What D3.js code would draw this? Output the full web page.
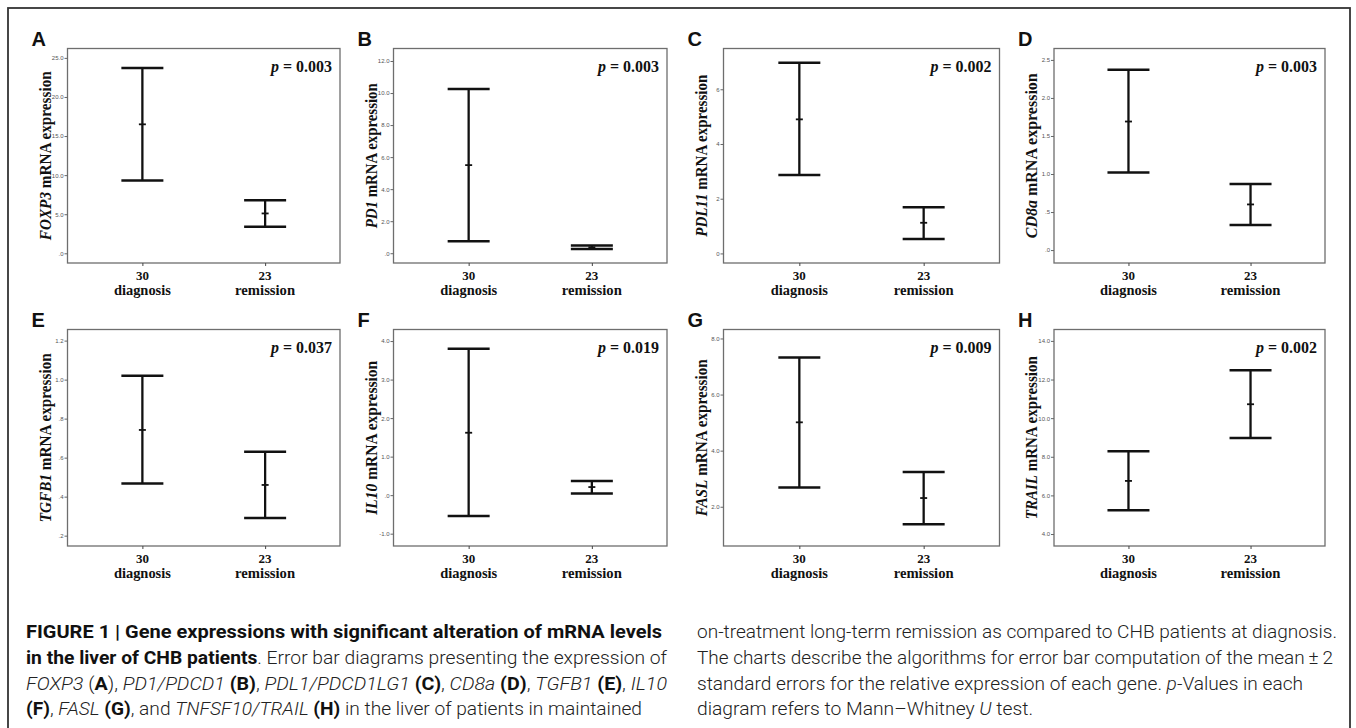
<!DOCTYPE html>
<html>
<head>
<meta charset="utf-8">
<script src="https://d3js.org/d3.v7.min.js"></script>
<style>
  body { margin: 0; background: #fff; }
</style>
</head>
<body>
<script>

  // ---- data ----
  var groups = ["diagnosis", "remission"];
  var groupN = ["30", "23"];
  var panelLetters = ["A", "B", "C", "D", "E", "F", "G", "H"];
  var genes = ["FOXP3", "PD1", "PDL11", "CD8a", "TGFB1", "IL10", "FASL", "TRAIL"];
  var pValues = ["0.003", "0.003", "0.002", "0.003", "0.037", "0.019", "0.009", "0.002"];

  // mean, lower (mean - 2SE), upper (mean + 2SE) for [diagnosis, remission]
  var meanValues  = [[16.5, 5.1], [5.5, 0.37], [4.9, 1.12], [1.69, 0.6], [0.742, 0.46], [1.62, 0.21], [5.01, 2.31], [6.75, 10.72]];
  var lowerValues = [[9.3, 3.4], [0.75, 0.27], [2.87, 0.53], [1.02, 0.33], [0.467, 0.291], [-0.54, 0.04], [2.69, 1.38], [5.23, 8.97]];
  var upperValues = [[23.7, 6.8], [10.25, 0.48], [6.97, 1.69], [2.37, 0.87], [1.02, 0.63], [3.8, 0.37], [7.32, 3.24], [8.28, 12.48]];

  var yDomains = [[-1.24, 26.2], [-0.61, 12.78], [-0.35, 7.49], [-0.17, 2.65], [0.147, 1.257], [-1.32, 4.3], [0.6, 8.32], [3.38, 14.59]];
  var yTicks = [
    [0, 5, 10, 15, 20, 25],
    [0, 2, 4, 6, 8, 10, 12],
    [0, 2, 4, 6],
    [0, 0.5, 1, 1.5, 2, 2.5],
    [0.2, 0.4, 0.6, 0.8, 1.0, 1.2],
    [-1, 0, 1, 2, 3, 4],
    [2, 4, 6, 8],
    [4, 6, 8, 10, 12, 14]
  ];
  var yTickLabels = [
    [".0", "5.0", "10.0", "15.0", "20.0", "25.0"],
    [".0", "2.0", "4.0", "6.0", "8.0", "10.0", "12.0"],
    ["0", "2", "4", "6"],
    [".0", ".5", "1.0", "1.5", "2.0", "2.5"],
    [".2", ".4", ".6", ".8", "1.0", "1.2"],
    ["-1.0", ".0", "1.0", "2.0", "3.0", "4.0"],
    ["2.0", "4.0", "6.0", "8.0"],
    ["4.0", "6.0", "8.0", "10.0", "12.0", "14.0"]
  ];

  // ---- layout ----
  var colLeft = [67.5, 393.5, 723.5, 1054];
  var colRight = [340, 667, 999.5, 1325];
  var rowTop = [48.5, 329.5];
  var rowBottom = [263, 546];
  var titleLength = [169, 145, 162, 165, 169, 154, 157, 163];

  var serif = "'Liberation Serif', 'Times New Roman', serif";
  var sans = "Arial, 'Liberation Sans', sans-serif";
  var capFont = "Roboto, 'Liberation Sans Narrow', 'Arial Narrow', sans-serif";

  var svg = d3.select("body").append("svg")
    .attr("width", 1356)
    .attr("height", 728);

  // outer frame
  svg.append("rect")
    .attr("x", 8).attr("y", 8)
    .attr("width", 1342).attr("height", 760)
    .attr("fill", "none")
    .attr("stroke", "#333")
    .attr("stroke-width", 1.8);

  panelLetters.forEach(function(letter, i) {
    var col = i % 4, row = Math.floor(i / 4);
    var L = colLeft[col], R = colRight[col], T = rowTop[row], B = rowBottom[row];

    var x = d3.scalePoint().domain(groups).range([L, R]).padding(0.61);
    var y = d3.scaleLinear().domain(yDomains[i]).range([B, T]);

    var g = svg.append("g");

    // plot frame
    g.append("rect")
      .attr("x", L).attr("y", T)
      .attr("width", R - L).attr("height", B - T)
      .attr("fill", "none")
      .attr("stroke", "#6e6e6e")
      .attr("stroke-width", 1.3);

    // y axis
    var yAxis = g.append("g")
      .attr("transform", "translate(" + L + ",0)")
      .call(d3.axisLeft(y)
        .tickValues(yTicks[i])
        .tickFormat(function(d, j) { return yTickLabels[i][j]; })
        .tickSize(3)
        .tickPadding(1));
    yAxis.select(".domain").remove();
    yAxis.selectAll(".tick line").attr("stroke", "#666");
    yAxis.selectAll(".tick text")
      .attr("fill", "#555")
      .style("font-family", sans)
      .style("font-size", "6px");

    // x axis ticks
    var xAxis = g.append("g")
      .attr("transform", "translate(0," + B + ")")
      .call(d3.axisBottom(x).tickSize(3).tickFormat(""));
    xAxis.select(".domain").remove();
    xAxis.selectAll(".tick line").attr("stroke", "#444");

    // x labels (n + group)
    groups.forEach(function(gr, j) {
      g.append("text")
        .attr("x", x(gr)).attr("y", B + 16.5)
        .attr("text-anchor", "middle")
        .style("font-family", serif)
        .style("font-weight", "bold")
        .style("font-size", "13px")
        .attr("fill", "#111")
        .text(groupN[j]);
      g.append("text")
        .attr("x", x(gr)).attr("y", B + 31.5)
        .attr("text-anchor", "middle")
        .style("font-family", serif)
        .style("font-weight", "bold")
        .style("font-size", "15.5px")
        .attr("fill", "#111")
        .attr("textLength", j === 0 ? 57 : 60)
        .attr("lengthAdjust", "spacingAndGlyphs")
        .text(gr);
    });

    // error bars
    var bars = groups.map(function(gr, j) {
      return { g: gr, m: meanValues[i][j], lo: lowerValues[i][j], hi: upperValues[i][j] };
    });

    var eb = g.selectAll(".eb").data(bars).enter().append("g")
      .attr("stroke", "#111")
      .attr("fill", "none");

    eb.append("line")
      .attr("x1", function(d) { return x(d.g); })
      .attr("x2", function(d) { return x(d.g); })
      .attr("y1", function(d) { return y(d.lo); })
      .attr("y2", function(d) { return y(d.hi); })
      .attr("stroke-width", 2.3);
    eb.append("line")
      .attr("x1", function(d) { return x(d.g) - 21; })
      .attr("x2", function(d) { return x(d.g) + 21; })
      .attr("y1", function(d) { return y(d.hi); })
      .attr("y2", function(d) { return y(d.hi); })
      .attr("stroke-width", 2.5);
    eb.append("line")
      .attr("x1", function(d) { return x(d.g) - 21; })
      .attr("x2", function(d) { return x(d.g) + 21; })
      .attr("y1", function(d) { return y(d.lo); })
      .attr("y2", function(d) { return y(d.lo); })
      .attr("stroke-width", 2.5);
    eb.append("line")
      .attr("x1", function(d) { return x(d.g) - 3.5; })
      .attr("x2", function(d) { return x(d.g) + 3.5; })
      .attr("y1", function(d) { return y(d.m); })
      .attr("y2", function(d) { return y(d.m); })
      .attr("stroke-width", 1.8);

    // p value
    var pt = g.append("text")
      .attr("x", R - 8).attr("y", T + 23)
      .attr("text-anchor", "end")
      .attr("textLength", 61)
      .attr("lengthAdjust", "spacingAndGlyphs")
      .style("font-family", serif)
      .style("font-weight", "bold")
      .style("font-size", "17.5px")
      .attr("fill", "#111");
    pt.append("tspan").style("font-style", "italic").text("p");
    pt.append("tspan").text(" = " + pValues[i]);

    // y title
    var yt = g.append("text")
      .attr("transform", "translate(" + (L - 17) + "," + ((T + B) / 2) + ") rotate(-90)")
      .attr("text-anchor", "middle")
      .attr("textLength", titleLength[i])
      .attr("lengthAdjust", "spacingAndGlyphs")
      .style("font-family", serif)
      .style("font-weight", "bold")
      .style("font-size", "17px")
      .attr("fill", "#111");
    yt.append("tspan").style("font-style", "italic").text(genes[i]);
    yt.append("tspan").text(" mRNA expression");

    // panel letter
    g.append("text")
      .attr("x", L - 36).attr("y", T - 2.5)
      .style("font-family", sans)
      .style("font-weight", "bold")
      .style("font-size", "20px")
      .attr("fill", "#111")
      .text(letter);
  });

  // ---- caption ----
  // each line: list of [text, style] where b = bold, i = italic
  var captionLeft = [
    [["FIGURE 1 | Gene expressions with significant alteration of mRNA levels", "b"]],
    [["in the liver of CHB patients", "b"], [". Error bar diagrams presenting the expression of", ""]],
    [["FOXP3", "i"], [" (", ""], ["A", "b"], ["), ", ""], ["PD1/PDCD1", "i"], [" ", ""], ["(B)", "b"], [", ", ""],
     ["PDL1/PDCD1LG1", "i"], [" ", ""], ["(C)", "b"], [", ", ""], ["CD8a", "i"], [" ", ""], ["(D)", "b"], [", ", ""],
     ["TGFB1", "i"], [" ", ""], ["(E)", "b"], [", ", ""], ["IL10", "i"]],
    [["(F)", "b"], [", ", ""], ["FASL", "i"], [" ", ""], ["(G)", "b"], [", and ", ""], ["TNFSF10/TRAIL", "i"], [" ", ""],
     ["(H)", "b"], [" in the liver of patients in maintained", ""]]
  ];
  var captionRight = [
    [["on-treatment long-term remission as compared to CHB patients at diagnosis.", ""]],
    [["The charts describe the algorithms for error bar computation of the mean\u2009\u00b1\u20092", ""]],
    [["standard errors for the relative expression of each gene. ", ""], ["p", "i"], ["-Values in each", ""]],
    [["diagram refers to Mann\u2013Whitney ", ""], ["U", "i"], [" test.", ""]]
  ];
  var leftWidths = [636, 641, 641, 616];
  var rightWidths = [640, 636, 606, 336];
  var lineY = [638, 664, 690, 715];

  function drawCaption(lines, x0, widths) {
    lines.forEach(function(parts, k) {
      var t = svg.append("text")
        .attr("x", x0).attr("y", lineY[k])
        .attr("textLength", widths[k])
        .attr("lengthAdjust", "spacingAndGlyphs")
        .style("font-family", capFont)
        .style("font-size", "19px")
        .style("font-weight", "300")
        .attr("fill", "#222")
        .attr("xml:space", "preserve");
      parts.forEach(function(p) {
        var s = t.append("tspan").text(p[0]);
        if (p[1] === "b") s.style("font-weight", "700").attr("fill", "#111");
        if (p[1] === "i") s.style("font-style", "italic");
      });
    });
  }
  drawCaption(captionLeft, 26, leftWidths);
  drawCaption(captionRight, 697, rightWidths);

</script>
</body>
</html>
